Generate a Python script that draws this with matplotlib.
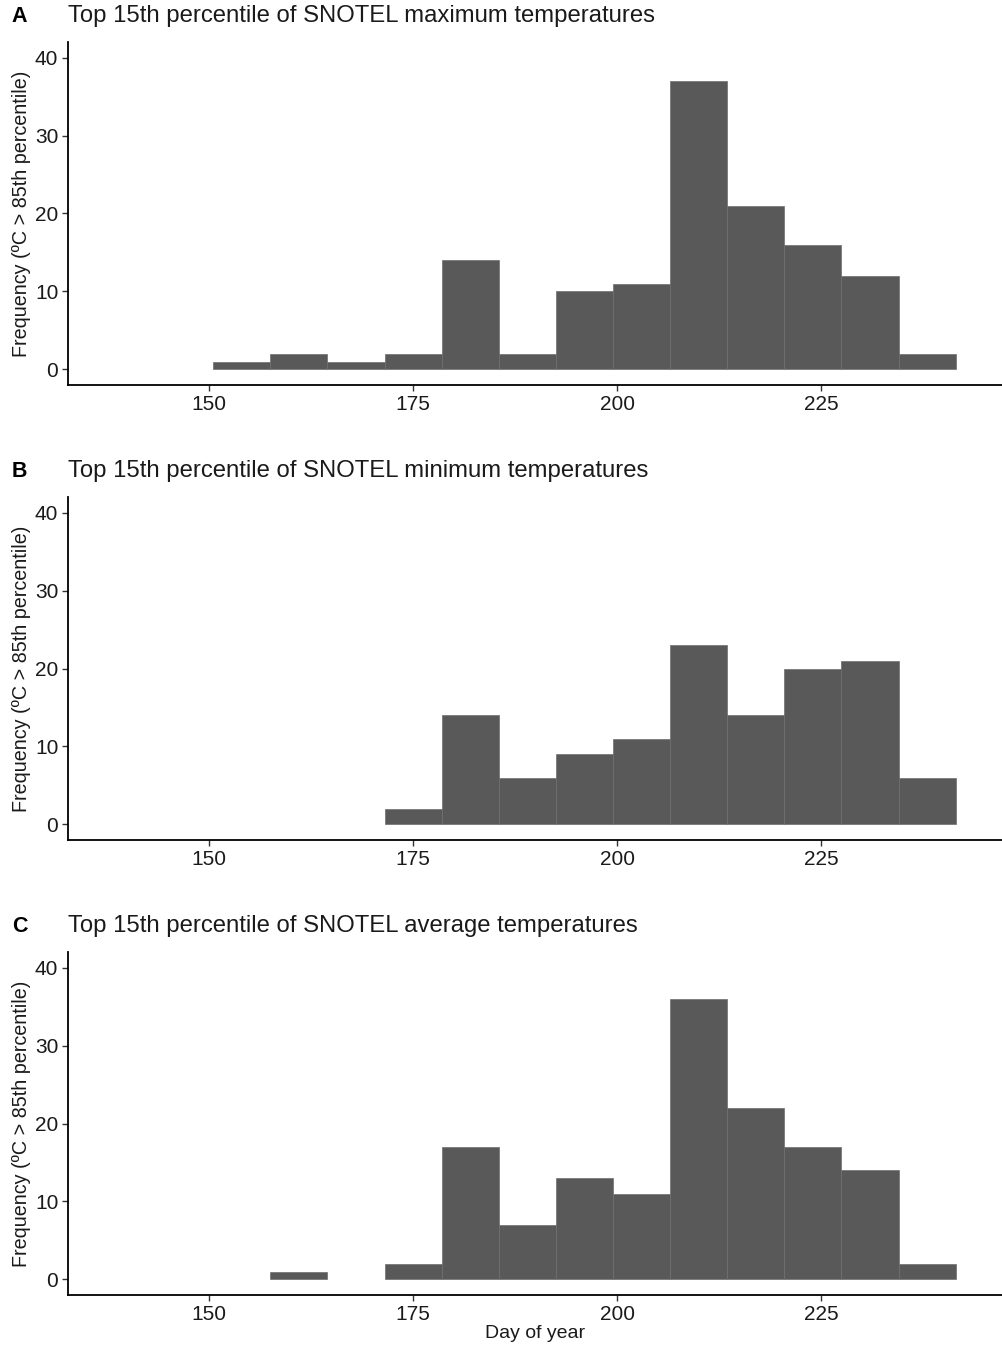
import numpy as np
from matplotlib import pyplot as plt

plt.rcParams['font.family'] = ['Liberation Sans', 'DejaVu Sans']

# bin edges of the day-of-year histograms (7 day bins)
bin_edges = [150.5, 157.5, 164.5, 171.5, 178.5, 185.5, 192.5, 199.5,
             206.5, 213.5, 220.5, 227.5, 234.5, 241.5]

counts_max = [1, 2, 1, 2, 14, 2, 10, 11, 37, 21, 16, 12, 2]
counts_min = [0, 0, 0, 2, 14, 6, 9, 11, 23, 14, 20, 21, 6]
counts_avg = [0, 1, 0, 2, 17, 7, 13, 11, 36, 22, 17, 14, 2]

letters = ["A", "B", "C"]
titles = ["Top 15th percentile of SNOTEL maximum temperatures",
          "Top 15th percentile of SNOTEL minimum temperatures",
          "Top 15th percentile of SNOTEL average temperatures"]
all_counts = [counts_max, counts_min, counts_avg]

W, H = 1003, 1346
fig = plt.figure(figsize=(W / 100, H / 100), dpi=100)

edges = np.array(bin_edges)
left = edges[:-1]
widths = np.diff(edges)

for i in range(3):
    top = 42 + 455 * i
    bottom = 385 + 455 * i
    ax = fig.add_axes([68 / W, 1 - bottom / H, (W - 68) / W, (bottom - top) / H])
    cnt = np.array(all_counts[i])
    keep = cnt > 0
    ax.bar(left[keep], cnt[keep], width=widths[keep], align='edge',
           color='#595959', edgecolor='#6e6e6e', linewidth=0.5)
    ax.set_xlim(132.7, 247.3)
    ax.set_ylim(-2, 42)
    ax.set_xticks([150, 175, 200, 225])
    ax.set_yticks([0, 10, 20, 30, 40])
    for s in ['top', 'right']:
        ax.spines[s].set_visible(False)
    for s in ['left', 'bottom']:
        ax.spines[s].set_linewidth(1.3)
        ax.spines[s].set_color('black')
    ax.tick_params(axis='both', labelsize=15, length=4, width=1,
                   color='#333333', labelcolor='#1a1a1a', pad=3)
    ax.set_ylabel("Frequency (ºC > 85th percentile)", fontsize=14.2, color='#1a1a1a',
                  labelpad=3)
    ax.text(-0.06, 1.075, letters[i], transform=ax.transAxes, fontsize=15.5,
            fontweight='bold', ha='left', va='center')
    ax.text(0.0, 1.075, titles[i], transform=ax.transAxes, fontsize=17.2,
            ha='left', va='center', color='#1a1a1a')
    if i == 2:
        ax.set_xlabel("Day of year", fontsize=14, color='#1a1a1a', labelpad=1)

fig.savefig("out.png", dpi=100)
